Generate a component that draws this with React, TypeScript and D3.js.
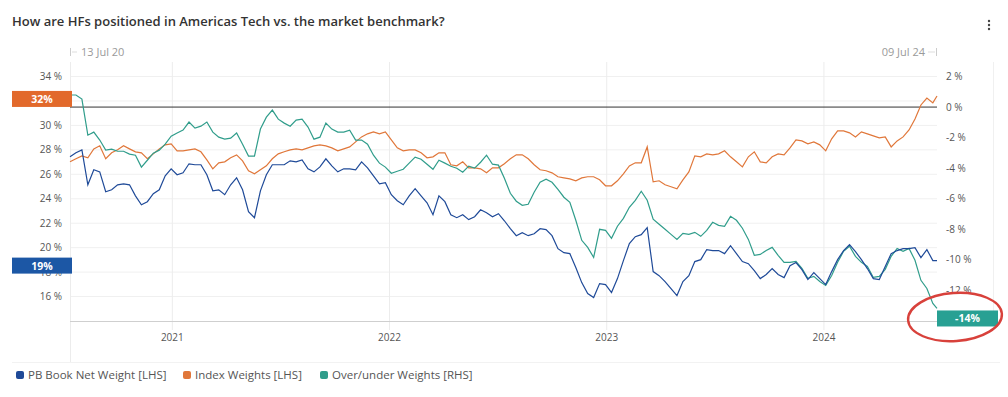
import React from "react";
import * as d3 from "d3";

// ---- Data ----
const START_DATE = "2020-07-13";
const END_DATE = "2024-07-09";
const STEP_DAYS = 10;

const pbBookNetWeight = [
  27.43, 27.76, 28.0, 25.14, 26.37, 26.2, 24.57, 24.73, 25.14, 25.22,
  25.14, 24.24, 23.51, 23.76, 24.41, 24.73, 25.88, 26.45, 25.96, 26.12,
  26.86, 26.78, 26.78, 25.96, 24.65, 24.73, 24.33, 25.14, 25.71, 24.73,
  22.94, 22.45, 24.65, 25.96, 26.78, 26.78, 26.78, 27.1, 27.02, 27.18,
  26.45, 26.2, 26.61, 27.27, 26.69, 26.2, 26.45, 26.45, 26.37, 27.02,
  26.53, 25.88, 25.22, 25.31, 24.33, 23.84, 23.51, 24.24, 24.82, 24.24,
  23.67, 22.69, 24.24, 23.76, 22.69, 22.45, 22.69, 22.29, 22.53, 23.1,
  22.86, 22.53, 22.78, 22.2, 21.55, 20.98, 21.22, 20.98, 21.14, 21.55,
  21.47, 20.98, 19.92, 19.59, 19.51, 18.37, 17.14, 16.24, 15.92, 17.06,
  16.98, 16.33, 17.47, 18.94, 20.33, 20.9, 21.06, 21.63, 18.04, 17.71,
  17.22, 16.65, 16.08, 17.22, 17.71, 18.86, 19.02, 19.84, 19.76, 19.76,
  19.51, 20.16, 19.51, 18.86, 18.69, 18.12, 17.47, 17.8, 18.29, 17.8,
  17.55, 18.53, 18.78, 18.2, 17.39, 17.96, 17.47, 16.98, 18.04, 19.02,
  19.76, 20.24, 19.67, 19.02, 18.29, 17.47, 17.39, 18.45, 19.51, 19.76,
  19.92, 19.92, 20.0, 19.18, 19.84, 18.94, 18.94,
];

const indexWeights = [
  27.02, 27.27, 27.51, 27.35, 28.08, 28.33, 27.27, 27.76, 28.0, 28.33,
  28.08, 27.84, 27.76, 27.27, 27.67, 28.08, 28.41, 28.49, 27.92, 27.92,
  28.0, 28.08, 27.84, 27.18, 26.45, 26.94, 27.02, 27.35, 27.59, 27.1,
  26.29, 26.04, 26.37, 26.69, 27.27, 27.67, 27.84, 28.0, 28.08, 28.0,
  28.16, 28.33, 28.41, 28.33, 28.16, 27.92, 28.08, 28.24, 28.65, 29.06,
  29.31, 29.47, 29.31, 29.47, 28.82, 28.16, 27.92, 28.0, 28.0, 27.76,
  27.35, 27.43, 27.76, 27.76, 26.78, 26.69, 27.02, 26.53, 26.53, 26.45,
  26.12, 26.53, 26.53, 26.86, 27.27, 27.59, 27.59, 27.27, 26.78, 26.37,
  26.29, 26.12, 25.8, 25.71, 25.63, 25.47, 25.71, 25.8, 25.8, 25.55,
  25.06, 25.06, 25.47, 26.04, 26.69, 26.94, 26.94, 28.24, 25.39, 25.47,
  25.14, 24.98, 24.82, 25.55, 26.2, 27.51, 27.43, 27.67, 27.59, 27.67,
  27.92, 27.43, 27.02, 26.61, 27.43, 27.84, 27.02, 26.94, 27.43, 27.67,
  27.59, 28.16, 28.82, 28.73, 28.49, 28.65, 28.41, 27.92, 28.9, 29.55,
  29.55, 29.39, 29.06, 29.47, 29.31, 29.14, 28.98, 29.06, 28.24, 28.73,
  29.06, 29.63, 30.53, 31.67, 32.24, 31.84, 32.41,
];

const overUnderWeights = [
  0.79, 0.79, 0.52, -1.84, -1.64, -2.16, -2.82, -2.75, -2.89, -2.89,
  -3.08, -3.15, -3.93, -3.48, -3.02, -2.82, -2.43, -1.9, -1.7, -1.51,
  -0.98, -1.38, -1.25, -0.98, -1.64, -1.97, -2.1, -2.03, -1.7, -2.43,
  -3.21, -3.21, -1.44, -0.66, -0.2, -0.79, -1.05, -1.25, -0.85, -0.79,
  -1.31, -2.1, -1.97, -1.05, -1.44, -1.64, -1.64, -1.51, -2.16, -2.16,
  -2.43, -3.15, -3.67, -3.93, -4.33, -4.2, -4.07, -3.67, -3.28, -3.41,
  -3.74, -4.07, -3.48, -3.67, -3.87, -4.0, -4.26, -3.87, -4.0, -3.61,
  -3.15, -3.74, -3.8, -4.66, -5.64, -6.16, -6.43, -6.36, -5.57, -4.92,
  -4.72, -4.92, -5.38, -5.9, -6.23, -7.41, -8.72, -9.18, -9.84, -8.0,
  -8.07, -8.59, -7.8, -7.28, -6.56, -6.1, -5.51, -6.1, -7.34, -7.67,
  -8.0, -8.33, -8.66, -8.26, -8.33, -8.2, -8.46, -8.07, -7.54, -7.74,
  -7.8, -7.15, -7.41, -7.93, -8.66, -9.7, -9.64, -9.38, -9.18, -9.7,
  -10.16, -10.16, -10.1, -10.56, -11.21, -11.08, -11.41, -11.67, -11.02, -10.16,
  -9.44, -9.11, -9.77, -10.16, -10.43, -11.15, -11.08, -10.62, -9.77, -9.25,
  -9.44, -9.25, -10.03, -11.34, -11.87, -12.85, -13.18,
];

const gridTicks = [16, 18, 20, 22, 24, 26, 28, 30, 32, 34];
const leftTickLabels = [16, 18, 20, 22, 24, 26, 28, 30, 34];
const rightTicks = [-12, -10, -8, -6, -4, -2, 0, 2];
const yearTicks = ["2021-01-01", "2022-01-01", "2023-01-01", "2024-01-01"];

const seriesNames = [
  "PB Book Net Weight [LHS]",
  "Index Weights [LHS]",
  "Over/under Weights [RHS]",
];
const lastLabels = ["19%", "32%", "-14%"];

// ---- Styles ----
const COLORS = { pb: "#1f4a98", idx: "#e0773a", ou: "#309d8b" };
const BOX = { pb: "#1c57a5", idx: "#e2692b", ou: "#28a093" };
const FONT = "'Open Sans', 'Noto Sans', sans-serif";

export default function App() {
  const W = 1008;
  const H = 397;
  const left = 70;
  const right = 937;
  const top = 62;
  const bottom = 321;

  const parse = d3.utcParse("%Y-%m-%d");
  const start = parse(START_DATE)!;
  const end = parse(END_DATE)!;

  const n = pbBookNetWeight.length;
  const dates = pbBookNetWeight.map((_, i) =>
    i === n - 1 ? end : d3.utcDay.offset(start, i * STEP_DAYS)
  );

  const x = d3.scaleUtc().domain([start, end]).range([left, right]);
  const yL = d3.scaleLinear().domain([14, 34]).range([bottom, 76.5]);
  const yR = d3.scaleLinear().domain([-14, 2]).range([bottom, 76.5]);

  const lineL = d3
    .line<number>()
    .x((_, i) => x(dates[i]))
    .y((d) => yL(d));
  const lineR = d3
    .line<number>()
    .x((_, i) => x(dates[i]))
    .y((d) => yR(d));

  const years = yearTicks.map((s) => parse(s)!);

  return (
    <svg
      width={W}
      height={H}
      style={{ position: "absolute", left: 0, top: 0, background: "#fff" }}
      fontFamily={FONT}
    >
      <rect x={0} y={0} width={W} height={H} fill="#fff" />
      {/* Title */}
      <text x={12} y={26} fontSize={13} fill="#333" fontWeight={600}>
        How are HFs positioned in Americas Tech vs. the market benchmark?
      </text>
      {/* kebab menu */}
      {[0, 1, 2].map((k) => (
        <circle key={k} cx={989} cy={21 + k * 4} r={1.2} fill="#444" />
      ))}

      {/* date range labels */}
      <line x1={70.5} x2={70.5} y1={48} y2={56} stroke="#ccc" />
      <line x1={72} x2={77} y1={52} y2={52} stroke="#ddd" />
      <text x={81} y={56} fontSize={11} fill="#9a9a9a">
        13 Jul 20
      </text>
      <text x={925} y={56} fontSize={11} fill="#9a9a9a" textAnchor="end">
        09 Jul 24
      </text>
      <line x1={928} x2={935} y1={52} y2={52} stroke="#ddd" />
      <line x1={936.5} x2={936.5} y1={48} y2={56} stroke="#ccc" />

      {/* horizontal grid */}
      {gridTicks.map((t) => (
        <line
          key={"g" + t}
          x1={left}
          x2={right}
          y1={yL(t)}
          y2={yL(t)}
          stroke="#f0f0f0"
        />
      ))}
      {/* vertical grid */}
      <line x1={left + 0.5} x2={left + 0.5} y1={top} y2={362} stroke="#ececec" />
      {years.map((d, i) => (
        <line
          key={"v" + i}
          x1={x(d)}
          x2={x(d)}
          y1={top}
          y2={330}
          stroke="#ececec"
        />
      ))}
      <line x1={993.5} x2={993.5} y1={top} y2={330} stroke="#f0f0f0" />
      {/* bottom axis */}
      <line x1={left} x2={right} y1={bottom + 0.5} y2={bottom + 0.5} stroke="#cfcfcf" />
      {/* separator */}
      <line x1={12} x2={1000} y1={362.5} y2={362.5} stroke="#f2f2f2" />

      {/* zero line */}
      <line x1={left} x2={right} y1={yR(0)} y2={yR(0)} stroke="#333" strokeWidth={1} />

      {/* left tick labels */}
      {leftTickLabels.map((t) => (
        <text
          key={"l" + t}
          x={62}
          y={yL(t) + 3.5}
          fontSize={10}
          fill="#555"
          textAnchor="end"
        >
          {t} %
        </text>
      ))}
      {/* right tick labels */}
      {rightTicks.map((t) => (
        <text key={"r" + t} x={946} y={yR(t) + 3.5} fontSize={10} fill="#555">
          {t} %
        </text>
      ))}
      {/* year labels */}
      {years.map((d, i) => (
        <text
          key={"y" + i}
          x={x(d)}
          y={341}
          fontSize={10}
          fill="#555"
          textAnchor="middle"
        >
          {d3.utcFormat("%Y")(d)}
        </text>
      ))}

      {/* series */}
      <path d={lineL(indexWeights) || ""} fill="none" stroke={COLORS.idx} strokeWidth={1.2} />
      <path d={lineR(overUnderWeights) || ""} fill="none" stroke={COLORS.ou} strokeWidth={1.2} />
      <path d={lineL(pbBookNetWeight) || ""} fill="none" stroke={COLORS.pb} strokeWidth={1.2} />

      {/* last-value boxes */}
      <rect x={12} y={yL(indexWeights[n - 1]) - 5} width={60} height={16} fill={BOX.idx} />
      <text
        x={42}
        y={yL(indexWeights[n - 1]) + 7}
        fontSize={10.5}
        fontWeight={700}
        fill="#fff"
        textAnchor="middle"
      >
        {lastLabels[1]}
      </text>
      <rect x={12} y={yL(pbBookNetWeight[n - 1]) - 3} width={60} height={16} fill={BOX.pb} />
      <text
        x={42}
        y={yL(pbBookNetWeight[n - 1]) + 9}
        fontSize={10.5}
        fontWeight={700}
        fill="#fff"
        textAnchor="middle"
      >
        {lastLabels[0]}
      </text>
      <rect x={937} y={yR(overUnderWeights[n - 1]) + 2} width={61} height={16} fill={BOX.ou} />
      <text
        x={967.5}
        y={yR(overUnderWeights[n - 1]) + 14}
        fontSize={10.5}
        fontWeight={700}
        fill="#fff"
        textAnchor="middle"
      >
        {lastLabels[2]}
      </text>

      {/* red annotation ellipse */}
      <ellipse
        cx={955}
        cy={317}
        rx={47}
        ry={24}
        fill="none"
        stroke="#d8413b"
        strokeWidth={2.4}
        transform="rotate(-4 955 317)"
      />

      {/* legend */}
      {[
        { c: COLORS.pb, x: 16, tx: 28 },
        { c: COLORS.idx, x: 183, tx: 195 },
        { c: COLORS.ou, x: 320, tx: 332 },
      ].map((l, i) => (
        <g key={"lg" + i}>
          <rect x={l.x} y={371} width={8} height={8} rx={2} fill={l.c} />
          <text x={l.tx} y={379} fontSize={11.5} fill="#555">
            {seriesNames[i]}
          </text>
        </g>
      ))}
    </svg>
  );
}
